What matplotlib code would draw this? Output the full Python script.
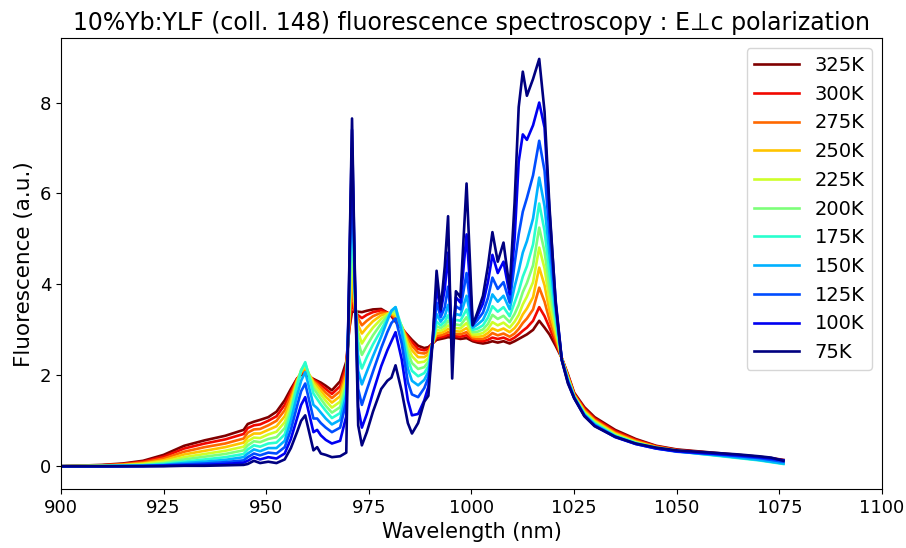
import numpy as np
import matplotlib
matplotlib.use("Agg")
import matplotlib.pyplot as plt

temperatures = ["325K", "300K", "275K", "250K", "225K", "200K", "175K", "150K", "125K", "100K", "75K"]

wavelength = [900, 910, 915, 920, 925, 930, 935, 940, 944.5, 945.5,
              947, 948.5, 950.5, 952.5, 954.5, 956, 957.5, 958.5, 959.5, 961.5,
              962.4, 963.3, 964.5, 966, 968, 969.5, 970.2, 970.9, 971.6, 972.4,
              973.3, 974.5, 976, 978, 979.5, 980.5, 981.5, 983, 984.5, 985.5,
              987, 988.5, 989.5, 990.5, 991.5, 992.5, 993.5, 994.3, 995.3, 996.2,
              997.3, 998.8, 1000.3, 1001.5, 1002.8, 1004, 1005.1, 1006.4, 1007.8, 1009.3,
              1010.5, 1011.5, 1012.5, 1013.5, 1015, 1016.5, 1017.8, 1019, 1020.5, 1022,
              1023.5, 1025, 1027.5, 1030, 1035, 1040, 1045, 1050, 1055, 1060,
              1065, 1070, 1073, 1076]

f_325K = [0, .03, .06, .12, .25, .45, .57, .67, .80, .93,
          .98, 1.02, 1.08, 1.20, 1.45, 1.70, 1.93, 2.01, 2.02, 1.92,
          1.88, 1.84, 1.77, 1.67, 1.87, 2.30, 3.00, 3.40, 3.40, 3.40,
          3.39, 3.42, 3.45, 3.46, 3.38, 3.30, 3.18, 3.03, 2.88, 2.78,
          2.65, 2.60, 2.62, 2.70, 2.78, 2.80, 2.82, 2.84, 2.83, 2.82,
          2.80, 2.82, 2.75, 2.72, 2.70, 2.72, 2.75, 2.72, 2.75, 2.70,
          2.75, 2.80, 2.85, 2.90, 3.00, 3.20, 3.05, 2.90, 2.65, 2.38,
          2.02, 1.62, 1.30, 1.08, .80, .60, .45, .37, .33, .29,
          .25, .21, .18, .14]
f_300K = [0, .02, .05, .10, .21, .39, .50, .59, .71, .84,
          .90, .92, 1.00, 1.10, 1.35, 1.63, 1.92, 2.04, 2.07, 1.90,
          1.85, 1.79, 1.70, 1.59, 1.76, 2.20, 3.00, 3.60, 3.40, 3.32,
          3.26, 3.33, 3.39, 3.43, 3.38, 3.32, 3.22, 3.05, 2.85, 2.73,
          2.58, 2.55, 2.58, 2.70, 2.82, 2.84, 2.86, 2.89, 2.87, 2.86,
          2.85, 2.88, 2.78, 2.76, 2.75, 2.78, 2.83, 2.80, 2.83, 2.77,
          2.83, 2.90, 2.98, 3.05, 3.20, 3.50, 3.30, 3.05, 2.72, 2.38,
          2.00, 1.60, 1.27, 1.05, .77, .58, .44, .36, .32, .28,
          .24, .20, .17, .13]
f_275K = [0, .02, .04, .08, .17, .32, .42, .50, .61, .74,
          .81, .82, .90, 1.00, 1.23, 1.55, 1.90, 2.06, 2.12, 1.88,
          1.81, 1.73, 1.62, 1.50, 1.65, 2.10, 3.10, 3.90, 3.45, 3.25,
          3.10, 3.20, 3.30, 3.38, 3.37, 3.34, 3.26, 3.07, 2.80, 2.65,
          2.50, 2.48, 2.52, 2.70, 2.87, 2.88, 2.91, 2.95, 2.92, 2.91,
          2.90, 2.95, 2.82, 2.80, 2.80, 2.85, 2.93, 2.88, 2.92, 2.85,
          2.92, 3.02, 3.15, 3.25, 3.45, 3.93, 3.62, 3.22, 2.80, 2.37,
          1.98, 1.58, 1.24, 1.02, .74, .56, .43, .35, .31, .27,
          .23, .19, .16, .12]
f_250K = [0, .01, .03, .06, .13, .26, .34, .42, .52, .64,
          .72, .72, .80, .88, 1.10, 1.45, 1.88, 2.08, 2.17, 1.85,
          1.76, 1.66, 1.53, 1.40, 1.54, 2.00, 3.20, 4.30, 3.50, 3.10,
          2.92, 3.05, 3.19, 3.32, 3.36, 3.36, 3.30, 3.08, 2.72, 2.55,
          2.40, 2.40, 2.46, 2.70, 2.93, 2.93, 2.97, 3.02, 2.97, 2.97,
          2.96, 3.04, 2.86, 2.85, 2.86, 2.93, 3.03, 2.98, 3.03, 2.95,
          3.04, 3.16, 3.34, 3.47, 3.72, 4.37, 3.98, 3.42, 2.90, 2.37,
          1.96, 1.56, 1.21, 1.00, .72, .54, .42, .35, .30, .26,
          .22, .17, .14, .10]
f_225K = [0, .01, .02, .05, .10, .20, .27, .34, .43, .55,
          .63, .62, .70, .76, .97, 1.35, 1.85, 2.10, 2.22, 1.80,
          1.69, 1.58, 1.44, 1.29, 1.42, 1.90, 3.30, 4.80, 3.60, 2.95,
          2.70, 2.87, 3.05, 3.24, 3.34, 3.38, 3.35, 3.08, 2.62, 2.42,
          2.28, 2.30, 2.38, 2.70, 3.00, 2.98, 3.03, 3.10, 3.02, 3.04,
          3.03, 3.15, 2.90, 2.90, 2.93, 3.02, 3.17, 3.10, 3.16, 3.05,
          3.18, 3.33, 3.56, 3.73, 4.05, 4.81, 4.35, 3.65, 3.00, 2.36,
          1.94, 1.55, 1.19, .98, .70, .53, .41, .34, .30, .25,
          .20, .15, .12, .08]
f_200K = [0, .01, .02, .03, .07, .15, .21, .27, .35, .46,
          .55, .53, .60, .64, .84, 1.25, 1.82, 2.12, 2.26, 1.72,
          1.60, 1.48, 1.33, 1.18, 1.30, 1.80, 3.40, 5.40, 3.70, 2.75,
          2.45, 2.65, 2.88, 3.14, 3.30, 3.40, 3.42, 3.07, 2.50, 2.27,
          2.14, 2.18, 2.30, 2.70, 3.08, 3.04, 3.10, 3.20, 3.07, 3.12,
          3.10, 3.28, 2.95, 2.96, 3.01, 3.13, 3.33, 3.24, 3.31, 3.17,
          3.35, 3.55, 3.83, 4.03, 4.42, 5.25, 4.72, 3.92, 3.12, 2.36,
          1.92, 1.54, 1.17, .96, .68, .52, .41, .34, .29, .24,
          .19, .14, .10, .06]
f_175K = [0, 0, .01, .02, .05, .10, .15, .20, .27, .37,
          .46, .43, .50, .52, .70, 1.15, 1.75, 2.10, 2.29, 1.60,
          1.48, 1.36, 1.22, 1.06, 1.17, 1.70, 3.50, 6.00, 3.80, 2.45,
          2.15, 2.40, 2.68, 3.00, 3.25, 3.42, 3.50, 3.05, 2.35, 2.10,
          1.98, 2.05, 2.20, 2.70, 3.18, 3.10, 3.18, 3.32, 3.10, 3.22,
          3.20, 3.45, 3.00, 3.03, 3.10, 3.27, 3.52, 3.40, 3.50, 3.30,
          3.60, 3.85, 4.17, 4.40, 4.88, 5.78, 5.18, 4.25, 3.25, 2.35,
          1.90, 1.53, 1.15, .94, .67, .51, .40, .33, .28, .23,
          .18, .13, .09, .05]
f_150K = [0, 0, .01, .01, .03, .07, .10, .14, .20, .28,
          .37, .33, .40, .40, .56, 1.00, 1.55, 1.88, 2.07, 1.35,
          1.28, 1.18, 1.05, .92, 1.02, 1.58, 3.70, 6.50, 3.90, 2.10,
          1.80, 2.08, 2.42, 2.85, 3.20, 3.42, 3.50, 2.95, 2.15, 1.88,
          1.78, 1.90, 2.08, 2.70, 3.35, 3.18, 3.30, 3.55, 3.10, 3.35,
          3.32, 3.75, 3.05, 3.12, 3.22, 3.45, 3.78, 3.62, 3.75, 3.45,
          3.95, 4.30, 4.70, 4.95, 5.45, 6.35, 5.72, 4.65, 3.40, 2.35,
          1.88, 1.52, 1.13, .92, .66, .50, .40, .33, .28, .24,
          .19, .14, .10, .06]
f_125K = [0, 0, 0, .01, .02, .04, .06, .09, .13, .20,
          .28, .24, .30, .28, .42, .80, 1.32, 1.65, 1.82, 1.05,
          1.05, .95, .85, .75, .85, 1.42, 3.90, 7.00, 4.00, 1.70,
          1.35, 1.68, 2.08, 2.60, 2.95, 3.15, 3.25, 2.70, 1.85, 1.58,
          1.52, 1.72, 1.95, 2.72, 3.60, 3.28, 3.50, 3.95, 3.00, 3.52,
          3.45, 4.25, 3.10, 3.22, 3.38, 3.70, 4.15, 3.90, 4.05, 3.60,
          4.45, 5.10, 5.60, 5.90, 6.40, 7.16, 6.50, 5.10, 3.55, 2.34,
          1.86, 1.51, 1.12, .90, .65, .49, .39, .32, .29, .26,
          .22, .18, .14, .10]
f_100K = [0, 0, 0, 0, .01, .02, .03, .05, .08, .12,
          .20, .15, .20, .17, .28, .60, 1.05, 1.35, 1.52, .75,
          .80, .68, .58, .50, .56, 1.10, 4.10, 7.40, 4.10, 1.30,
          .85, 1.15, 1.62, 2.20, 2.55, 2.75, 2.95, 2.35, 1.45, 1.12,
          1.15, 1.45, 1.75, 2.75, 3.95, 3.40, 3.90, 4.70, 2.60, 3.72,
          3.60, 5.10, 3.12, 3.32, 3.58, 4.05, 4.65, 4.25, 4.50, 3.78,
          5.00, 6.70, 7.30, 7.18, 7.50, 8.00, 7.45, 5.60, 3.65, 2.34,
          1.84, 1.50, 1.11, .89, .64, .49, .39, .33, .30, .27,
          .24, .20, .17, .13]
f_75K = [0, 0, 0, 0, 0, .01, .01, .02, .03, .05,
         .12, .07, .10, .07, .15, .40, .75, 1.00, 1.12, .35,
         .42, .28, .25, .20, .22, .30, 4.20, 7.65, 4.20, .90,
         .46, .75, 1.20, 1.70, 1.88, 1.95, 2.22, 1.65, .95, .72,
         .95, 1.42, 1.55, 2.70, 4.30, 3.45, 4.40, 5.50, 1.93, 3.85,
         3.72, 6.22, 3.10, 3.40, 3.75, 4.40, 5.15, 4.50, 4.92, 3.90,
         5.80, 7.90, 8.68, 8.15, 8.52, 8.96, 7.80, 5.70, 3.60, 2.33,
         1.82, 1.50, 1.10, .88, .65, .50, .41, .35, .32, .29,
         .26, .22, .19, .12]

series = [f_325K, f_300K, f_275K, f_250K, f_225K, f_200K,
          f_175K, f_150K, f_125K, f_100K, f_75K]

fig = plt.figure(figsize=(9.06, 5.48), dpi=100)
ax = fig.add_axes([0.0673, 0.1077, 0.9062, 0.8221])

colors = plt.cm.jet(np.linspace(1, 0, len(temperatures)))
for label, vals, c in zip(temperatures, series, colors):
    ax.plot(wavelength, vals, color=c, lw=1.9, label=label)

ax.set_xlim(900, 1100)
ax.set_ylim(-0.5, 9.41)
ax.set_xticks(np.arange(900, 1101, 25))
ax.set_yticks([0, 2, 4, 6, 8])
ax.tick_params(labelsize=13)
ax.set_xlabel("Wavelength (nm)", fontsize=15)
ax.set_ylabel("Fluorescence (a.u.)", fontsize=15.5)
ax.set_title("10%Yb:YLF (coll. 148) fluorescence spectroscopy : E\u22a5c polarization", fontsize=17)
ax.legend(loc="upper right", fontsize=14, handlelength=2.3)

fig.savefig("out.png", dpi=100)
